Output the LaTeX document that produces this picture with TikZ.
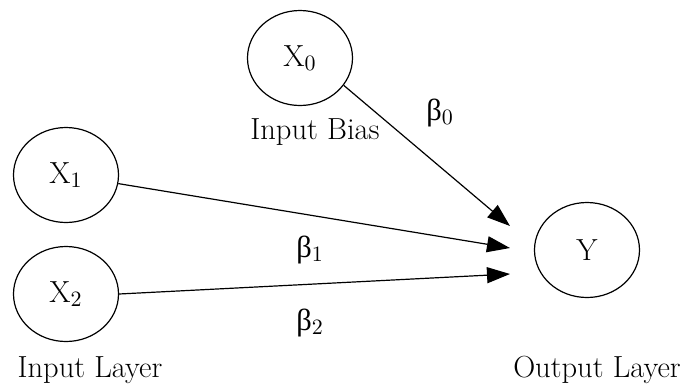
\documentclass[tikz,border=0pt]{standalone}
\usepackage{fontspec}
\usepackage{tikz}
\usetikzlibrary{arrows.meta,shapes.geometric}
\newfontfamily\greekfont{Liberation Serif}

\begin{document}
\begin{tikzpicture}[x=0.5pt, y=-0.5pt, >={Triangle[length=11.5pt,width=8pt]},
    unit/.style={draw, ellipse, line width=0.6pt, minimum width=52.5pt,
                 minimum height=47.5pt, inner sep=0pt,
                 font=\fontsize{15.25}{18}\selectfont},
    caption/.style={inner sep=0pt, font=\fontsize{15.25}{18}\selectfont},
    weight/.style={inner sep=0pt, font=\fontsize{15.25}{18}\greekfont},
    link/.style={->, line width=0.6pt}]

    \useasboundingbox (0,0) rectangle (692,387);

    % ── Bias unit ─────────────────────────────────────────────────────────────
    \node[unit] (x0) at (300,58) {X$_0$};
    \node[caption] (biaslbl) at (315,132) {Input Bias};

    % ── Input layer ───────────────────────────────────────────────────────────
    \node[unit] (x1) at (66,175) {X$_1$};
    \node[unit] (x2) at (66,294) {X$_2$};
    \node[caption] (inlbl) at (90,370) {Input Layer};

    % ── Output layer ──────────────────────────────────────────────────────────
    \node[unit] (y) at (587,250) {Y};
    \node[caption] (outlbl) at (597,370) {Output Layer};

    % ── Arrow tips (stop short of Y) ──────────────────────────────────────────
    \coordinate (t0) at (510,226);
    \coordinate (t1) at (510,248);
    \coordinate (t2) at (510,274);

    % ── Weighted links ────────────────────────────────────────────────────────
    \draw[link] (x0.-32) -- (t0);
    \draw[link] (x1) -- (t1);
    \draw[link] (x2.east) -- (t2);

    \node[weight] (b0) at (440,113) {β$_0$};
    \node[weight] (b1) at (310,250) {β$_1$};
    \node[weight] (b2) at (310,323) {β$_2$};

\end{tikzpicture}
\end{document}
